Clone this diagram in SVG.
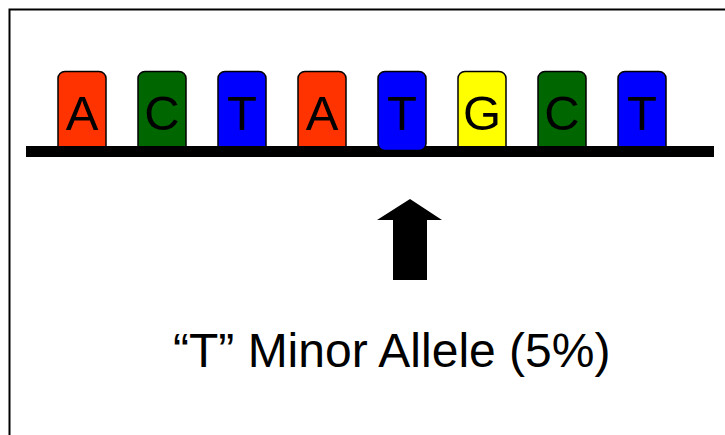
<svg xmlns="http://www.w3.org/2000/svg" width="725" height="435" viewBox="0 0 725 435">
  <style>
    .base { stroke: #000; stroke-width: 1.5; }
    .letter { font-family: "Liberation Sans", Arial, sans-serif; font-size: 49px; text-anchor: middle; fill: #000; }
    .caption { font-family: "Liberation Sans", Arial, sans-serif; font-size: 48px; fill: #000; }
    .A { fill: #FF3300; }
    .C { fill: #006600; }
    .T { fill: #0000FF; }
    .G { fill: #FFFF00; }
  </style>
  <rect width="725" height="435" fill="#fff"/>
  <!-- frame: left and top edges only -->
  <path d="M9.5 435 V9.5 H725" fill="none" stroke="#000" stroke-width="2"/>

  <g id="strand">
    <g id="base1"><rect class="base A" x="58" y="71.5" width="48" height="84" rx="7"/><text class="letter" x="82" y="130">A</text></g>
    <g id="base2"><rect class="base C" x="138" y="71.5" width="48" height="84" rx="7"/><text class="letter" x="162" y="130">C</text></g>
    <g id="base3"><rect class="base T" x="218" y="71.5" width="48" height="84" rx="7"/><text class="letter" x="242" y="130">T</text></g>
    <g id="base4"><rect class="base A" x="298" y="71.5" width="48" height="84" rx="7"/><text class="letter" x="322" y="130">A</text></g>
    <g id="base6"><rect class="base G" x="458" y="71.5" width="48" height="84" rx="7"/><text class="letter" x="482" y="130">G</text></g>
    <g id="base7"><rect class="base C" x="538" y="71.5" width="48" height="84" rx="7"/><text class="letter" x="562" y="130">C</text></g>
    <g id="base8"><rect class="base T" x="618" y="71.5" width="48" height="84" rx="7"/><text class="letter" x="642" y="130">T</text></g>
    <!-- backbone -->
    <rect id="backbone" x="26" y="146" width="688" height="11" fill="#000"/>
    <!-- variant base sits on top of the backbone -->
    <g id="base5"><rect class="base T" x="378" y="71.5" width="48" height="79" rx="7"/><text class="letter" x="402" y="130">T</text></g>
  </g>

  <g id="connectors">
    <polygon points="410,199 442,220 427,220 427,280 393,280 393,220 377,220" fill="#000"/>
  </g>

  <g id="label">
    <text class="caption" x="173" y="367">“T” Minor Allele (5%)</text>
  </g>
</svg>
